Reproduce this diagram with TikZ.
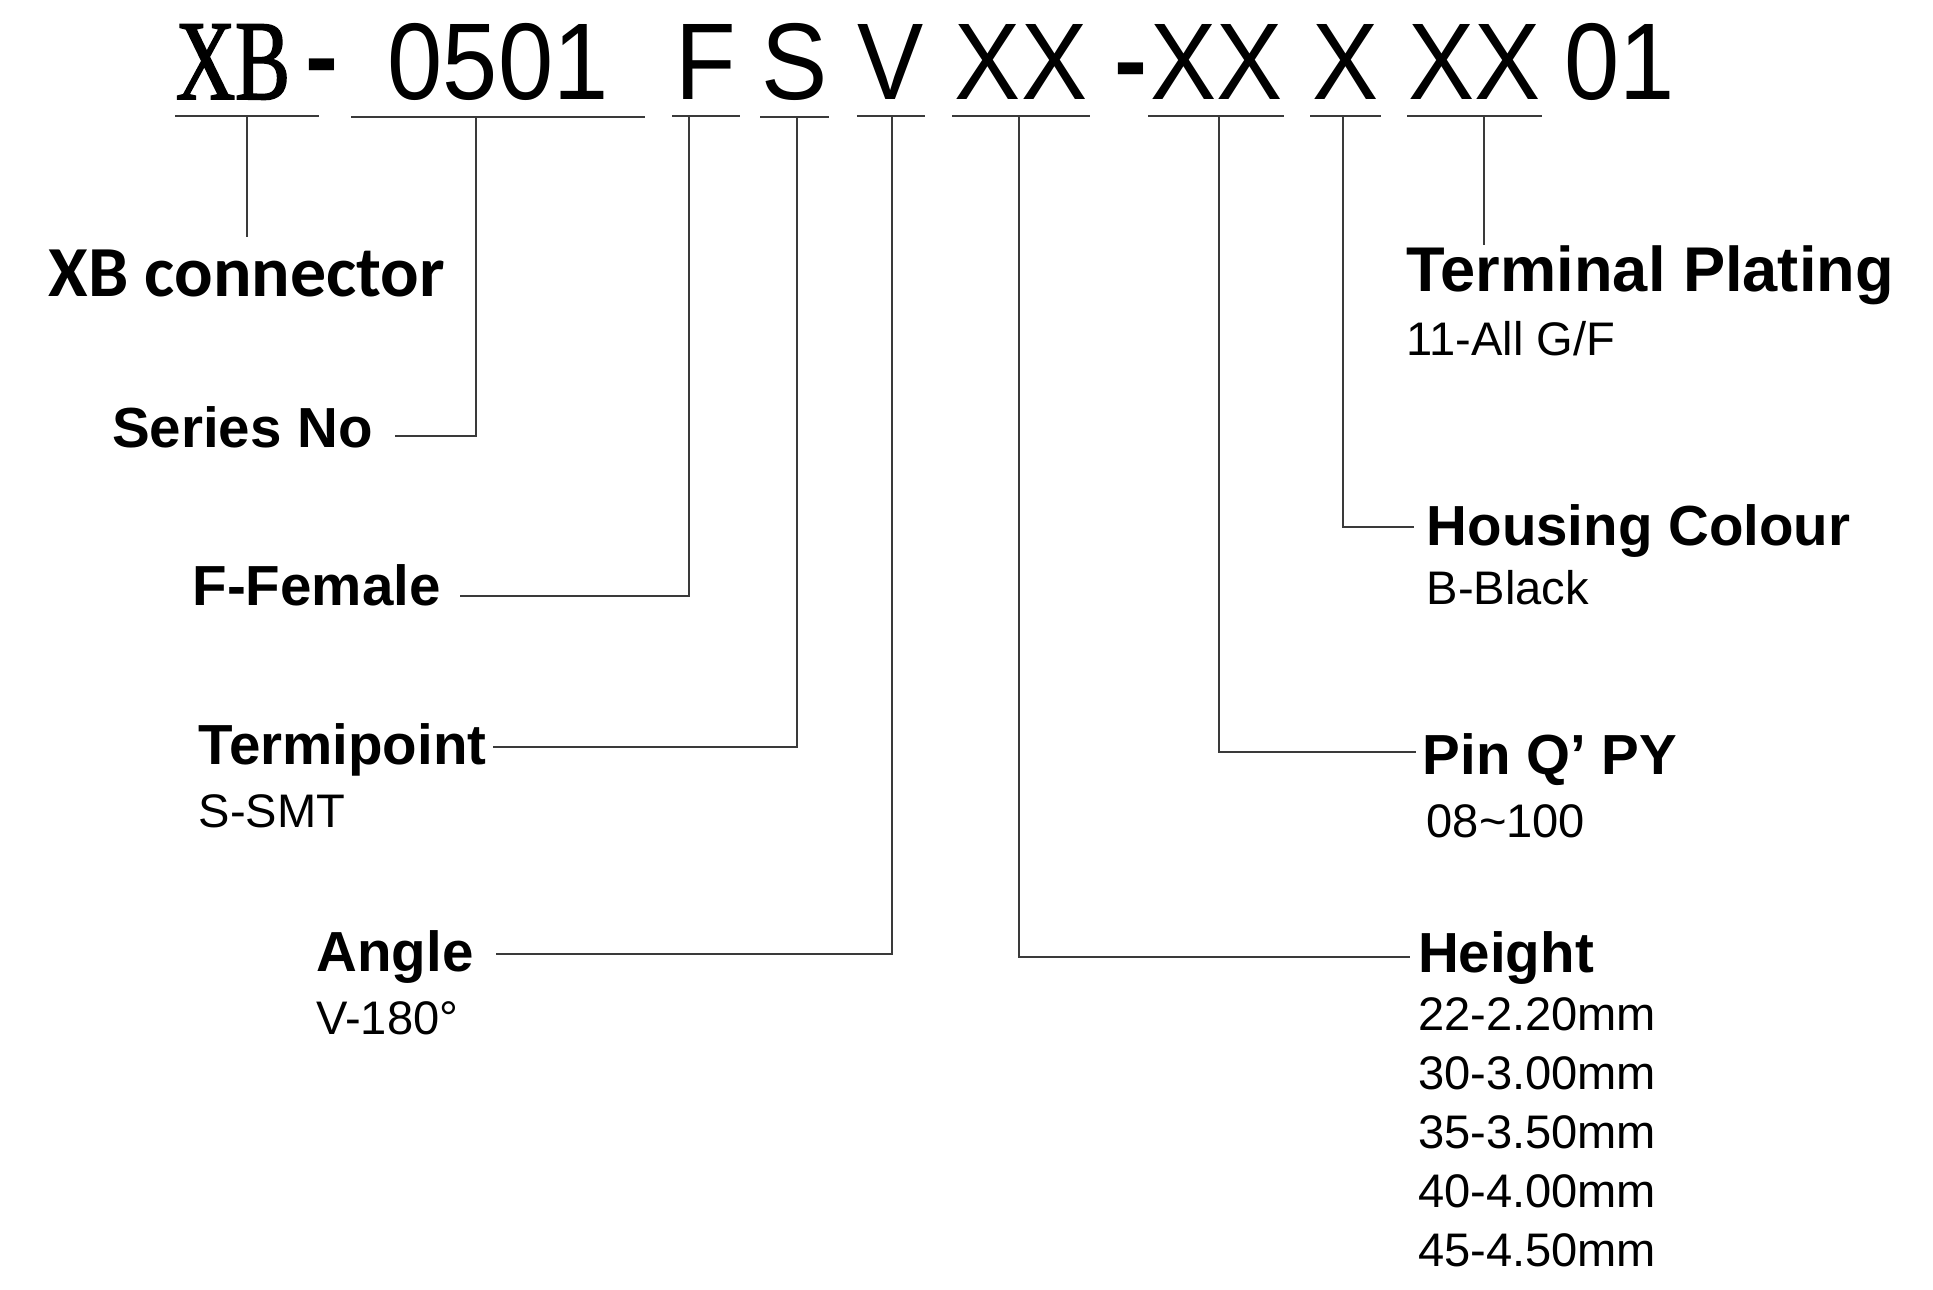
\documentclass[tikz,border=0pt]{standalone}
\usepackage{fontspec}
\setmainfont{Liberation Sans}
\newfontfamily\xbserif[FakeStretch=0.72,FakeBold=1.5]{Liberation Serif}
\newfontfamily\codesans[FakeStretch=0.91]{Liberation Sans}
\newfontfamily\xbcali{Carlito}
\usepackage{tikz}
\usetikzlibrary{positioning}
\definecolor{linegray}{HTML}{3A3A3A}

\begin{document}
\begin{tikzpicture}[x=0.5pt,y=-0.5pt]
\tikzstyle{code} = [inner sep=0pt, anchor=base, font=\codesans\fontsize{44}{44}\selectfont]
\tikzstyle{hyph} = [inner sep=0pt, anchor=base, font=\bfseries\fontsize{40}{40}\selectfont]
\tikzstyle{lbl} = [inner sep=0pt, anchor=base west, font=\bfseries\fontsize{22.8}{26}\selectfont]
\tikzstyle{sub} = [inner sep=0pt, anchor=base west, align=left, font=\fontsize{19}{23.75}\selectfont]
\tikzstyle{uline} = [draw=linegray, line width=0.8pt]
\tikzstyle{conn} = [draw=linegray, line width=0.8pt]
\useasboundingbox (0,0) rectangle (1560,1041);
% part number
\node [code, font=\xbserif\fontsize{46}{46}\selectfont, text width=57.5pt, align=left] (cxb) at (199.5,80) {XB};
\node [hyph] (d1) at (260,73) {-};
\node [code, minimum width=118pt] (c0501) at (402,80) {0501};
\node [code, minimum width=27pt] (cf) at (570,80) {F};
\node [code, minimum width=27.5pt] (cs) at (641.5,80) {S};
\node [code, minimum width=27pt] (cv) at (719,80) {V};
\node [code, minimum width=55pt] (cxx1) at (824,80) {XX};
\node [hyph] (d2) at (913,76) {-};
\node [code, minimum width=54.5pt] (cxx2) at (981.5,80) {XX};
\node [code, minimum width=28pt] (cx) at (1086,80) {X};
\node [code, minimum width=54pt] (cxx3) at (1190,80) {XX};
\node [code] (c01) at (1307,80) {01};
\foreach \n in {cxb,c0501,cf,cs,cv,cxx1,cxx2,cx,cxx3}
  \draw[uline] ([yshift=-6.5pt]\n.south west) -- ([yshift=-6.5pt]\n.south east);
% left labels
\node [lbl, font=\xbcali\bfseries\fontsize{29}{32}\selectfont] (lxb) at (39,239) {XB connector};
\node [lbl] (lser) at (90,361) {Series No};
\node [lbl] (lfem) at (155,489) {F-Female};
\node [lbl] (lterm) at (160,617) {Termipoint};
\node [sub] (sterm) at (160,668) {S-SMT};
\node [lbl] (lang) at (255,784) {Angle};
\node [sub] (sang) at (255,835) {V-180°};
% right labels
\node [lbl, font=\bfseries\fontsize{25.5}{28}\selectfont] (lplat) at (1135,235) {Terminal Plating};
\node [sub] (splat) at (1135,287) {11-All G/F};
\node [lbl] (lcol) at (1151,440) {Housing Colour};
\node [sub] (scol) at (1151,488) {B-Black};
\node [lbl] (lpin) at (1148,625) {Pin Q’ PY};
\node [sub] (spin) at (1151,676) {08\textasciitilde 100};
\node [lbl] (lhgt) at (1144,785) {Height};
\node [sub, anchor=north west] (shgt) at (1144,805) {22-2.20mm\\30-3.00mm\\35-3.50mm\\40-4.00mm\\45-4.50mm};
% leaders
\draw[conn, shorten >=5pt] ([yshift=-6.5pt]cxb.south) -- (cxb.south |- lxb.north);
\draw[conn] ([xshift=-9pt,yshift=-6.5pt]c0501.south) |- ([xshift=9pt,yshift=4.5pt]lser.base east);
\draw[conn] ([xshift=-7pt,yshift=-6.5pt]cf.south) |- ([xshift=7.5pt,yshift=4pt]lfem.base east);
\draw[conn] ([xshift=1pt,yshift=-6.5pt]cs.south) |- ([xshift=2.5pt,yshift=7pt]lterm.base east);
\draw[conn] ([xshift=0.5pt,yshift=-6.5pt]cv.south) |- ([xshift=9pt,yshift=7pt]lang.base east);
\draw[conn] ([xshift=-1pt,yshift=-6.5pt]cxx1.south) |- ([xshift=-3pt,yshift=6.5pt]lhgt.base west);
\draw[conn] ([xshift=1pt,yshift=-6.5pt]cxx2.south) |- ([xshift=-2.5pt,yshift=9pt]lpin.base west);
\draw[conn] ([xshift=-1pt,yshift=-6.5pt]cx.south) |- ([xshift=-5pt,yshift=7.5pt]lcol.base west);
\draw[conn] ([xshift=4pt,yshift=-6.5pt]cxx3.south) -- ([xshift=4pt]cxx3.south |- lplat.north);
\end{tikzpicture}
\end{document}
